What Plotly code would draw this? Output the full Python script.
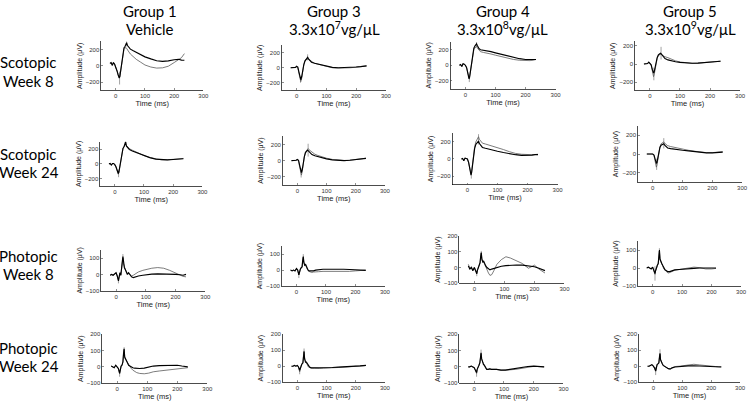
import plotly.graph_objects as go

W, H = 756, 406

# ---------------- data ----------------
t_sco = [-20, -16, -12, -8, -4, 0, 4, 8, 12, 14, 17, 20, 24, 28, 32, 35, 37, 40, 45, 50,
         60, 70, 85, 100, 120, 140, 160, 180, 200, 215, 225, 235]
t_pho = [-20, -15, -10, -5, 0, 4, 8, 10, 13, 16, 19, 21, 23, 25, 28, 31, 34, 38, 42, 47,
         52, 58, 65, 75, 90, 105, 120, 140, 160, 180, 200, 215, 225, 235]

# Scotopic week 8
sw8_g1_black = [30, 40, 5, 40, 20, -10, -60, -110, -150, -130, -50, 40, 150, 220, 240, 270, 285, 250, 220, 205,
                185, 165, 135, 110, 85, 62, 55, 60, 75, 80, 70, 68]
sw8_g1_gray = [30, 40, 5, 40, 20, -10, -60, -110, -150, -130, -50, 40, 130, 200, 220, 225, 215, 190, 170, 145,
               110, 80, 45, 10, -15, -28, -25, -5, 40, 75, 100, 150]
sw8_g3_black = [0, 0, 5, 0, 5, 20, 10, -60, -140, -160, -120, -40, 40, 90, 110, 120, 140, 120, 90, 75,
                60, 50, 35, 20, 5, 0, 0, 5, 10, 15, 20, 25]
sw8_g3_gray = [0, 0, 0, 5, 5, 15, 0, -80, -170, -185, -140, -50, 40, 100, 115, 110, 115, 110, 95, 80,
               62, 50, 32, 15, 0, -5, -5, 0, 8, 15, 20, 25]
sw8_g4_black = [0, 10, -15, 20, 15, 0, -30, -100, -175, -150, -60, 40, 150, 220, 250, 265, 275, 250, 215, 200,
                195, 190, 175, 160, 140, 120, 100, 85, 75, 70, 75, 75]
sw8_g4_gray = [0, 10, -15, 20, 15, 0, -30, -95, -160, -140, -60, 30, 130, 200, 225, 235, 240, 220, 190, 175,
               165, 160, 145, 130, 110, 90, 75, 65, 60, 60, 65, 75]
sw8_g5_black = [0, 0, 0, 5, 20, 10, -10, -60, -100, -90, -40, 20, 70, 100, 115, 120, 115, 100, 75, 60,
                45, 35, 25, 18, 10, 8, 10, 15, 20, 25, 30, 30]
sw8_g5_gray = [0, 0, 0, 5, 15, 10, -15, -80, -140, -120, -60, 10, 60, 95, 105, 108, 110, 100, 85, 80,
               70, 55, 35, 22, 12, 8, 10, 15, 20, 25, 30, 32]

# Scotopic week 24
sw24_g1_black = [0, 5, -15, 5, 5, -10, -40, -90, -130, -110, -40, 40, 140, 210, 235, 270, 300, 240, 215, 195,
                 175, 160, 135, 110, 85, 65, 55, 55, 60, 65, 70, 70]
sw24_g1_gray = [0, 5, -15, 5, 5, -10, -45, -100, -140, -115, -45, 35, 135, 205, 240, 255, 260, 250, 225, 205,
                185, 165, 140, 112, 85, 65, 55, 55, 62, 66, 72, 74]
sw24_g3_black = [0, 0, 5, 0, 5, 15, 5, -60, -130, -150, -110, -30, 50, 100, 120, 130, 125, 110, 90, 75,
                 60, 50, 35, 22, 10, 2, 0, 5, 12, 18, 22, 28]
sw24_g3_gray = [0, 0, 0, 5, 5, 10, 0, -80, -165, -180, -130, -40, 45, 110, 135, 145, 150, 135, 120, 100,
                80, 65, 45, 30, 15, 5, 2, 6, 14, 20, 25, 30]
sw24_g4_black = [0, 5, -20, 10, 5, 0, -40, -120, -190, -160, -70, 30, 120, 170, 190, 215, 210, 180, 150, 135,
                 125, 115, 100, 90, 75, 60, 50, 42, 40, 45, 50, 50]
sw24_g4_gray = [0, 5, -20, 10, 5, 0, -40, -110, -170, -150, -60, 40, 140, 200, 230, 250, 260, 230, 200, 185,
                175, 165, 150, 130, 110, 85, 65, 55, 48, 50, 52, 55]
sw24_g5_black = [0, 0, 0, 5, 5, 0, -10, -50, -100, -90, -40, 20, 70, 95, 100, 105, 110, 95, 75, 65,
                 58, 52, 45, 40, 33, 25, 18, 12, 12, 15, 18, 20]
sw24_g5_gray = [0, 0, 0, 5, 5, 0, -15, -70, -140, -120, -55, 15, 75, 110, 120, 125, 130, 115, 100, 90,
                80, 72, 62, 52, 40, 30, 22, 15, 15, 18, 22, 25]

# Photopic week 8
pw8_g1_black = [-5, 0, -5, 0, 10, -10, -40, -20, 10, -5, 30, 80, 110, 70, 40, 30, 20, 0, 10, -5,
                -15, -20, -15, -10, -5, 0, 2, 3, 3, 2, 0, -2, -5, 0]
pw8_g1_gray = [-5, 0, -5, 0, 10, -10, -35, -15, 10, -5, 30, 75, 100, 65, 40, 30, 20, 5, 5, -5,
               -10, -5, 5, 15, 25, 32, 38, 42, 38, 25, 10, -5, -12, -15]
pw8_g3_black = [0, -5, 0, -5, 10, 0, -30, -10, 5, 15, 20, 60, 85, 50, 30, 35, 20, 5, -5, -5,
                -8, -5, 0, 3, 5, 5, 6, 6, 5, 4, 2, 0, 0, -2]
pw8_g3_gray = [0, -5, 0, -5, 10, 0, -30, -10, 5, 15, 20, 55, 80, 45, 30, 30, 15, 0, -8, -12,
               -15, -12, -10, -10, -8, -8, -8, -10, -10, -8, -5, -3, -2, 0]
pw8_g4_black = [10, -10, 0, -20, 0, -20, -40, -20, 0, 20, 30, 70, 95, 55, 35, 40, 25, 10, 0, -10,
                -15, -10, -5, 2, 8, 12, 15, 16, 15, 12, 5, -5, -15, -20]
pw8_g4_gray = [20, -5, 5, -15, 0, -15, -35, -15, 5, 20, 30, 65, 90, 50, 35, 35, 20, 5, -15, -35,
               -50, -45, -20, 20, 50, 68, 60, 45, 25, -5, 15, -10, -25, -35]
pw8_g5_black = [0, 5, 0, -5, 5, -10, -30, -15, 5, 15, 25, 70, 100, 50, 30, 25, 15, 0, -10, -15,
                -20, -20, -15, -10, -8, -5, -4, -2, 0, 0, -2, 0, None, None]
pw8_g5_gray = [0, 5, 0, -5, 5, -10, -35, -15, 5, 15, 25, 65, 95, 45, 30, 25, 12, -5, -12, -20,
               -28, -25, -18, -12, -8, -5, 0, 5, 2, -5, -5, -2, None, None]

# Photopic week 24
pw24_g1_black = [5, 0, -5, 10, 0, -10, -40, -20, 5, 10, 30, 80, 110, 60, 45, 40, 25, 10, 5, 0,
                 -5, -8, -10, -10, -8, -2, 5, 8, 10, 10, 10, 5, 2, 0]
pw24_g1_gray = [5, 0, -5, 10, 0, -10, -40, -20, 5, 10, 30, 75, 105, 55, 45, 40, 30, 15, 5, -10,
                -20, -28, -35, -40, -42, -38, -30, -25, -20, -15, -10, -8, -5, -5]
pw24_g3_black = [0, 0, 5, 0, 5, -5, -25, -10, 5, 15, 20, 60, 90, 45, 25, 25, 15, 0, -5, -10,
                 -10, -10, -12, -12, -10, -10, -8, -6, -5, -2, 0, 2, 4, 5]
pw24_g3_gray = [0, 0, 5, 0, 5, -5, -35, -15, 5, 15, 20, 65, 95, 45, 25, 20, 10, -5, -8, -12,
                -12, -12, -14, -14, -12, -12, -10, -8, -6, -4, -2, 0, 2, 4]
pw24_g4_black = [0, 0, 5, 0, -5, -20, -35, -15, 5, 10, 25, 60, 85, 50, 30, 15, 10, -5, -15, -15,
                 -12, -15, -15, -15, -20, -20, -15, -8, -2, 2, 5, 3, 0, 0]
pw24_g4_gray = [0, 0, 5, 0, -5, -20, -40, -15, 5, 10, 25, 60, 80, 45, 30, 15, 10, -5, -15, -15,
                -12, -15, -15, -15, -20, -20, -18, -15, -10, -3, 3, 2, 0, 0]
pw24_g5_black = [0, 0, 5, 10, 0, -10, -30, -10, 10, 15, 20, 55, 80, 40, 20, 15, 5, 0, -5, -10,
                 -15, -18, -10, -5, -2, 0, 2, 3, 2, 0, -2, -3, -3, -5]
pw24_g5_gray = [0, 0, 5, 10, 0, -10, -30, -10, 10, 15, 20, 50, 75, 40, 20, 15, 5, 0, -5, -10,
                -15, -15, -8, -2, 0, 5, 8, 12, 8, 3, 0, -2, -3, -3]

# a-/b-wave peak markers (time, value, spread) per panel
mark_t_sco = [13, 37]
mark_t_pho = [8, 23]
marks_v = [[-150, 285], [-160, 140], [-175, 275], [-110, 120],
           [-130, 300], [-150, 130], [-190, 230], [-110, 115],
           [-40, 110], [-30, 85], [-40, 95], [-30, 100],
           [-40, 110], [-30, 90], [-40, 85], [-30, 80]]
marks_e = [[80, 45], [40, 40], [40, 40], [70, 70],
           [50, 40], [60, 80], [40, 60], [60, 55],
           [15, 15], [20, 15], [15, 10], [40, 10],
           [20, 10], [20, 20], [20, 20], [25, 25]]

group_titles = ["Group 1", "Group 3", "Group 4", "Group 5"]
group_doses = ["Vehicle", "3.3x10<sup>7</sup>vg/\u03bcL", "3.3x10<sup>8</sup>vg/\u03bcL",
               "3.3x10<sup>9</sup>vg/\u03bcL"]
row_titles = [("Scotopic", "Week 8"), ("Scotopic", "Week 24"),
              ("Photopic", "Week 8"), ("Photopic", "Week 24")]
sco_ticks = [-200, 0, 200]
pho_ticks_a = [-100, 0, 100]
pho_ticks_b = [-100, 0, 100, 200]
x_ticks = [0, 100, 200, 300]

series = [
    (t_sco, sw8_g1_black, sw8_g1_gray), (t_sco, sw8_g3_black, sw8_g3_gray),
    (t_sco, sw8_g4_black, sw8_g4_gray), (t_sco, sw8_g5_black, sw8_g5_gray),
    (t_sco, sw24_g1_black, sw24_g1_gray), (t_sco, sw24_g3_black, sw24_g3_gray),
    (t_sco, sw24_g4_black, sw24_g4_gray), (t_sco, sw24_g5_black, sw24_g5_gray),
    (t_pho, pw8_g1_black, pw8_g1_gray), (t_pho, pw8_g3_black, pw8_g3_gray),
    (t_pho, pw8_g4_black, pw8_g4_gray), (t_pho, pw8_g5_black, pw8_g5_gray),
    (t_pho, pw24_g1_black, pw24_g1_gray), (t_pho, pw24_g3_black, pw24_g3_gray),
    (t_pho, pw24_g4_black, pw24_g4_gray), (t_pho, pw24_g5_black, pw24_g5_gray),
]

# ---------------- layout geometry (pixels) ----------------
# (left, right, top, bottom, y range, y ticks, show time title)
geom = [
    (102, 205, 39, 88.5, [-300, 300], sco_ticks, True),
    (284, 389, 43, 88.5, [-300, 300], sco_ticks, True),
    (454, 560, 39.5, 87, [-300, 300], sco_ticks, True),
    (640, 746, 39, 88.5, [-290, 250], sco_ticks, True),
    (101, 204, 140.8, 185.8, [-300, 300], sco_ticks, True),
    (285, 388, 135.5, 184.5, [-300, 300], sco_ticks, True),
    (456, 562, 132.3, 184.3, [-300, 300], sco_ticks, True),
    (643, 748, 124.8, 181.8, [-300, 300], sco_ticks, False),
    (102, 207, 250.7, 292, [-100, 150], pho_ticks_a, True),
    (284, 388, 246.8, 287.3, [-100, 150], pho_ticks_a, True),
    (463, 569, 236.4, 284.5, [-100, 200], pho_ticks_b, True),
    (643, 747, 241.6, 287.3, [-100, 150], pho_ticks_a, False),
    (103, 209, 336, 386, [-100, 200], pho_ticks_b, True),
    (285, 388, 336, 385, [-100, 200], pho_ticks_b, True),
    (463, 568, 336, 386, [-100, 200], pho_ticks_b, True),
    (644, 746, 336, 385, [-100, 200], pho_ticks_b, True),
]

fig = go.Figure()
tick_font = dict(family="Liberation Sans, Arial", size=6, color="#333")
ytitle_font = dict(family="Liberation Sans, Arial", size=7, color="#222")
xtitle_font = dict(family="Liberation Sans, Arial", size=7.5, color="#222")

for i, ((t, blk, gry), g) in enumerate(zip(series, geom)):
    n = i + 1
    xa = "x" if n == 1 else f"x{n}"
    ya = "y" if n == 1 else f"y{n}"
    mt = mark_t_sco if i < 8 else mark_t_pho
    fig.add_trace(go.Scatter(x=mt, y=marks_v[i], mode="markers", xaxis=xa, yaxis=ya,
                             marker=dict(size=0.1, color="rgba(0,0,0,0)"),
                             error_y=dict(type="data", array=marks_e[i], color="#8a8a8a",
                                          thickness=0.8, width=0),
                             showlegend=False, hoverinfo="skip"))
    fig.add_trace(go.Scatter(x=t, y=gry, mode="lines", xaxis=xa, yaxis=ya,
                             line=dict(color="#5a5a5a", width=0.8), showlegend=False,
                             connectgaps=False))
    fig.add_trace(go.Scatter(x=t, y=blk, mode="lines", xaxis=xa, yaxis=ya,
                             line=dict(color="#000000", width=1.15), showlegend=False,
                             connectgaps=False))
    L, R, T, B, yr, yt, show_t = g
    xkey = "xaxis" if n == 1 else f"xaxis{n}"
    ykey = "yaxis" if n == 1 else f"yaxis{n}"
    xdict = dict(domain=[L / W, R / W], anchor=ya, range=[-50, 300],
                 tickvals=x_ticks, ticks="inside", ticklen=2, tickwidth=0.6,
                 showline=True, linecolor="#000", linewidth=0.7,
                 showgrid=False, zeroline=False, tickfont=tick_font)
    if show_t:
        xdict["title"] = dict(text="Time (ms)", font=xtitle_font, standoff=1)
    fig.layout[xkey] = xdict
    fig.layout[ykey] = dict(domain=[1 - B / H, 1 - T / H], anchor=xa, range=yr,
                            tickvals=yt, ticks="inside", ticklen=2, tickwidth=0.6,
                            showline=True, linecolor="#000", linewidth=0.7,
                            showgrid=False, zeroline=False, tickfont=tick_font,
                            title=dict(text="Amplitude (\u03bcV)", font=ytitle_font, standoff=2))

ann = []
head_x = [151, 337, 507, 696]
for hx, gt, gd in zip(head_x, group_titles, group_doses):
    ann.append(dict(x=hx / W, y=1 - 8 / H, text=gt))
    ann.append(dict(x=hx / W, y=1 - 26 / H, text=gd))
row_y = [(60, 79), (153, 172), (257, 275), (350, 368)]
for (a, b), (ya_, yb_) in zip(row_titles, row_y):
    ann.append(dict(x=29 / W, y=1 - ya_ / H, text=a))
    ann.append(dict(x=29 / W, y=1 - yb_ / H, text=b))
for a in ann:
    a.update(xref="paper", yref="paper", showarrow=False, xanchor="center", yanchor="middle",
             font=dict(family="Lato, Open Sans, sans-serif", size=15, color="#000"))

fig.update_layout(width=W, height=H, margin=dict(l=0, r=0, t=0, b=0),
                  paper_bgcolor="white", plot_bgcolor="white", annotations=ann,
                  showlegend=False, hovermode=False)
fig.write_html("out.html", config={"displayModeBar": False, "staticPlot": True},
               post_script="document.body.style.margin='0';document.body.style.overflow='hidden';")
